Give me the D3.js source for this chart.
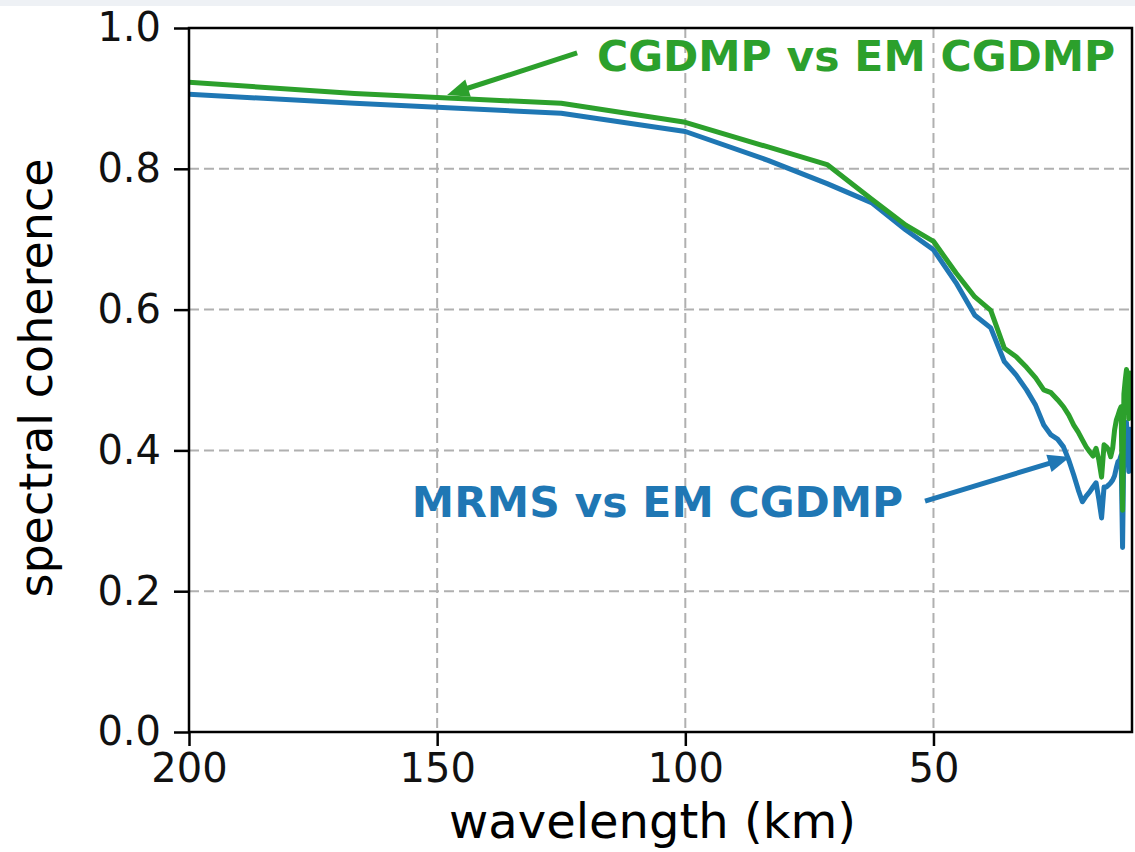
<!DOCTYPE html>
<html>
<head>
<meta charset="utf-8">
<script src="https://cdn.jsdelivr.net/npm/d3@7"></script>
<style>
  body { margin: 0; background: #fff; }
  svg { display: block; }
  text { font-family: "DejaVu Sans", sans-serif; }
</style>
</head>
<body>
<svg id="chart" width="1135" height="852"></svg>
<script>
// Wavelength of each spectral bin (km), 500 km domain / wavenumber 2..50
const wavelengths = [
  250, 166.67, 125, 100, 83.33, 71.43, 62.5, 55.56, 50, 45.45,
  41.67, 38.46, 35.71, 33.33, 31.25, 29.41, 27.78, 26.32, 25, 23.81,
  22.73, 21.74, 20.83, 20, 19.23, 18.52, 17.86, 17.24, 16.67, 16.13,
  15.63, 15.15, 14.71, 14.29, 13.89, 13.51, 13.16, 12.82, 12.5, 12.2,
  11.9, 11.63, 11.36, 11.11, 10.87, 10.64, 10.42, 10.2, 10
];

// Spectral coherence, CGDMP vs EM CGDMP
const cgdmpVsEm = [
  0.947, 0.907, 0.893, 0.866, 0.831, 0.806, 0.757, 0.720, 0.697, 0.652,
  0.618, 0.599, 0.545, 0.533, 0.518, 0.503, 0.486, 0.482, 0.472, 0.462,
  0.450, 0.436, 0.426, 0.415, 0.405, 0.398, 0.392, 0.403, 0.386, 0.362,
  0.408, 0.405, 0.401, 0.391, 0.403, 0.429, 0.443, 0.450, 0.457, 0.462,
  0.315, 0.480, 0.500, 0.515, 0.500, 0.445, 0.510, 0.470, 0.505
];

// Spectral coherence, MRMS vs EM CGDMP
const mrmsVsEm = [
  0.925, 0.893, 0.879, 0.853, 0.812, 0.779, 0.752, 0.713, 0.685, 0.638,
  0.592, 0.574, 0.526, 0.507, 0.486, 0.464, 0.436, 0.422, 0.416, 0.405,
  0.386, 0.365, 0.344, 0.327, 0.335, 0.341, 0.348, 0.354, 0.330, 0.304,
  0.348, 0.348, 0.351, 0.354, 0.358, 0.364, 0.375, 0.384, 0.386, 0.393,
  0.262, 0.420, 0.430, 0.440, 0.400, 0.370, 0.430, 0.385, 0.420
];

const xTicks = [200, 150, 100, 50];
const yTicks = [0.0, 0.2, 0.4, 0.6, 0.8, 1.0];

const blue = "#1f77b4";
const green = "#2ca02c";

const svg = d3.select("#chart");
const W = 1135, H = 852;
const plot = { left: 189, right: 1132, top: 28, bottom: 732 };

// thin pale band along the top edge
svg.append("rect").attr("x", 0).attr("y", 0).attr("width", W).attr("height", 6)
  .attr("fill", "#eef1f5");

const x = d3.scaleLinear().domain([200, 10]).range([plot.left, plot.right]);
const y = d3.scaleLinear().domain([0, 1]).range([plot.bottom, plot.top]);

svg.append("clipPath").attr("id", "plot-clip")
  .append("rect")
  .attr("x", plot.left).attr("y", plot.top)
  .attr("width", plot.right - plot.left).attr("height", plot.bottom - plot.top);

// dashed grid
const grid = svg.append("g").attr("stroke", "#b0b0b0").attr("stroke-width", 2)
  .attr("stroke-dasharray", "10,5");
grid.selectAll("line.gx").data(xTicks).join("line").attr("class", "gx")
  .attr("x1", d => x(d)).attr("x2", d => x(d))
  .attr("y1", plot.top).attr("y2", plot.bottom);
grid.selectAll("line.gy").data(yTicks).join("line").attr("class", "gy")
  .attr("y1", d => y(d)).attr("y2", d => y(d))
  .attr("x1", plot.left).attr("x2", plot.right);

// coherence curves
const line = d3.line().x(d => x(d[0])).y(d => y(d[1]));
const series = [
  { values: mrmsVsEm, color: blue },
  { values: cgdmpVsEm, color: green }
];
svg.append("g").attr("clip-path", "url(#plot-clip)")
  .selectAll("path").data(series).join("path")
  .attr("d", s => line(wavelengths.map((w, i) => [w, s.values[i]])))
  .attr("fill", "none")
  .attr("stroke", s => s.color)
  .attr("stroke-width", 5)
  .attr("stroke-linejoin", "round");

// axes
const xAxis = svg.append("g").attr("transform", `translate(0,${plot.bottom})`)
  .call(d3.axisBottom(x).tickValues(xTicks).tickFormat(d3.format("d"))
    .tickSize(14).tickPadding(8));
const yAxis = svg.append("g").attr("transform", `translate(${plot.left},0)`)
  .call(d3.axisLeft(y).tickValues(yTicks).tickFormat(d3.format(".1f"))
    .tickSize(15).tickPadding(13));
[xAxis, yAxis].forEach(a => {
  a.select(".domain").remove();
  a.selectAll(".tick line").attr("stroke", "#000").attr("stroke-width", 2.5);
  a.selectAll(".tick text").attr("fill", "#111").style("font-size", "40px")
    .style("font-family", "'DejaVu Sans', sans-serif");
});

// spines
svg.append("rect")
  .attr("x", plot.left).attr("y", plot.top)
  .attr("width", plot.right - plot.left).attr("height", plot.bottom - plot.top)
  .attr("fill", "none").attr("stroke", "#000").attr("stroke-width", 2.5);

// axis titles
svg.append("text")
  .attr("x", (plot.left + plot.right) / 2 - 8).attr("y", 838)
  .attr("text-anchor", "middle").style("font-size", "48px").attr("fill", "#000")
  .text("wavelength (km)");
svg.append("text")
  .attr("transform", `translate(52,${(plot.top + plot.bottom) / 2 - 2}) rotate(-90)`)
  .attr("text-anchor", "middle").style("font-size", "46px").attr("fill", "#000")
  .text("spectral coherence");

// annotations with arrows
const notes = [
  { label: "CGDMP vs EM CGDMP", color: green, textAt: [117.8, 0.939],
    tail: [121.8, 0.9645], tip: [148.0, 0.905] },
  { label: "MRMS vs EM CGDMP", color: blue, textAt: [155.1, 0.305],
    tail: [51.7, 0.328], tip: [22.5, 0.3906] }
];
notes.forEach(n => {
  svg.append("text")
    .attr("x", x(n.textAt[0])).attr("y", y(n.textAt[1]))
    .attr("fill", n.color).style("font-size", "42.5px").style("font-weight", "bold")
    .text(n.label);
  const x0 = x(n.tail[0]), y0 = y(n.tail[1]);
  const x1 = x(n.tip[0]), y1 = y(n.tip[1]);
  const dx = x1 - x0, dy = y1 - y0, len = Math.hypot(dx, dy);
  const ux = dx / len, uy = dy / len;
  const headLen = 22, headHalf = 9;
  const bx = x1 - ux * headLen, by = y1 - uy * headLen;
  svg.append("line")
    .attr("x1", x0).attr("y1", y0).attr("x2", bx + ux * 2).attr("y2", by + uy * 2)
    .attr("stroke", n.color).attr("stroke-width", 5);
  svg.append("path")
    .attr("d", `M${x1},${y1}L${bx - uy * headHalf},${by + ux * headHalf}L${bx + uy * headHalf},${by - ux * headHalf}Z`)
    .attr("fill", n.color);
});
</script>
</body>
</html>
